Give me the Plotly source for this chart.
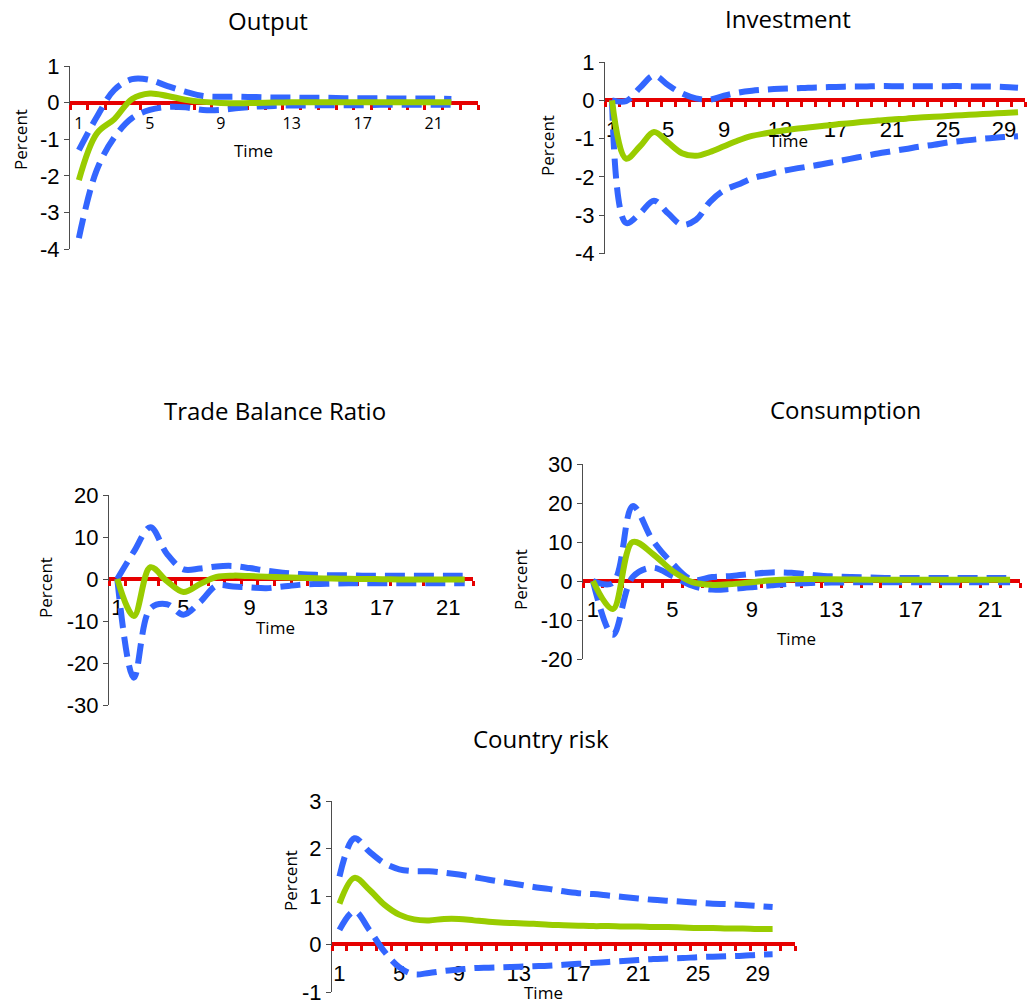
import plotly.graph_objects as go

W, H = 1036, 1006

# ---------------- data ----------------
output_x = list(range(1, 23))
output_irf = [-2.12, -0.85, -0.45, 0.1, 0.25, 0.18, 0.08, 0.02, -0.01, -0.02, -0.01, 0.0,
              0.01, 0.01, 0.01, 0.01, 0.01, 0.01, 0.01, 0.01, 0.01, 0.01]
output_hi = [-1.3, -0.4, 0.35, 0.64, 0.62, 0.45, 0.3, 0.18, 0.16, 0.16, 0.15, 0.14,
             0.14, 0.13, 0.13, 0.12, 0.12, 0.12, 0.11, 0.11, 0.11, 0.1]
output_lo = [-3.7, -1.85, -0.95, -0.42, -0.2, -0.12, -0.13, -0.2, -0.2, -0.15, -0.11, -0.09,
             -0.08, -0.08, -0.07, -0.07, -0.07, -0.06, -0.06, -0.06, -0.06, -0.06]
output_ticks = [1, 5, 9, 13, 17, 21]

inv_x = list(range(1, 31))
inv_irf = [0.0, -1.52, -1.2, -0.83, -1.1, -1.38, -1.45, -1.35, -1.2, -1.05, -0.93, -0.86,
           -0.8, -0.75, -0.71, -0.67, -0.63, -0.6, -0.56, -0.53, -0.5, -0.48, -0.45, -0.43,
           -0.41, -0.39, -0.37, -0.35, -0.33, -0.31]
inv_hi = [0.0, -0.02, 0.33, 0.65, 0.4, 0.18, 0.05, 0.02, 0.12, 0.2, 0.25, 0.28, 0.3, 0.31,
          0.33, 0.34, 0.35, 0.36, 0.36, 0.37, 0.37, 0.37, 0.37, 0.37, 0.37, 0.37, 0.36, 0.36,
          0.35, 0.33]
inv_lo = [0.0, -3.2, -2.95, -2.62, -2.95, -3.25, -3.12, -2.65, -2.35, -2.2, -2.04, -1.95,
          -1.86, -1.79, -1.73, -1.67, -1.6, -1.53, -1.46, -1.39, -1.33, -1.27, -1.21, -1.16,
          -1.1, -1.06, -1.02, -0.99, -0.96, -0.94]
inv_ticks = [1, 5, 9, 13, 17, 21, 25, 29]

tb_x = list(range(1, 23))
tb_irf = [0.0, -8.8, 2.8, -0.5, -3.1, -1.2, 0.5, 0.8, 0.7, 0.55, 0.4, 0.3, 0.2, 0.1,
          0.05, 0.0, -0.05, -0.1, -0.1, -0.1, -0.1, -0.1]
tb_hi = [0.0, 6.5, 12.3, 6.0, 2.3, 2.5, 3.0, 3.1, 2.6, 2.0, 1.5, 1.2, 1.0, 0.9, 0.9, 0.8,
         0.8, 0.8, 0.8, 0.8, 0.8, 0.8]
tb_lo = [0.0, -23.5, -7.0, -6.0, -8.5, -5.5, -1.6, -1.8, -2.0, -2.2, -1.8, -1.4, -1.2, -1.1,
         -1.0, -1.0, -1.0, -1.0, -1.0, -1.0, -1.0, -1.0]
tb_ticks = [1, 5, 9, 13, 17, 21]

con_x = list(range(1, 23))
con_irf = [0.0, -7.2, 10.0, 7.0, 2.6, -0.3, -1.0, -0.8, -0.3, 0.2, 0.45, 0.5, 0.45, 0.4,
           0.35, 0.3, 0.3, 0.3, 0.3, 0.3, 0.3, 0.3]
con_hi = [0.0, -0.5, 19.2, 10.5, 4.5, 0.3, 1.0, 1.3, 1.8, 2.2, 2.1, 1.6, 1.2, 1.0, 0.9,
          0.8, 0.8, 0.8, 0.8, 0.8, 0.8, 0.8]
con_lo = [0.0, -13.8, 1.0, 3.4, 1.3, -1.2, -2.2, -2.0, -1.6, -1.1, -0.7, -0.5, -0.4, -0.35,
          -0.3, -0.3, -0.3, -0.3, -0.3, -0.3, -0.3, -0.3]
con_ticks = [1, 5, 9, 13, 17, 21]

cr_x = list(range(1, 31))
cr_irf = [0.85, 1.39, 1.14, 0.83, 0.62, 0.52, 0.5, 0.53, 0.53, 0.5, 0.47, 0.45, 0.44, 0.43,
          0.41, 0.4, 0.39, 0.38, 0.38, 0.37, 0.37, 0.36, 0.36, 0.35, 0.34, 0.34, 0.33, 0.33,
          0.32, 0.32]
cr_hi = [1.42, 2.22, 1.94, 1.7, 1.57, 1.53, 1.53, 1.5, 1.46, 1.41, 1.35, 1.3, 1.25, 1.2,
         1.16, 1.11, 1.07, 1.05, 1.02, 0.99, 0.96, 0.93, 0.91, 0.89, 0.87, 0.85, 0.84, 0.82,
         0.8, 0.78]
cr_lo = [0.3, 0.69, 0.3, -0.15, -0.48, -0.63, -0.6, -0.56, -0.53, -0.5, -0.49, -0.48, -0.47,
         -0.46, -0.45, -0.43, -0.41, -0.39, -0.37, -0.35, -0.33, -0.31, -0.3, -0.29, -0.27,
         -0.26, -0.25, -0.24, -0.22, -0.21]
cr_ticks = [1, 5, 9, 13, 17, 21, 25, 29]

# ---------------- styling ----------------
GREEN = "#99CC00"
BLUE = "#3366FF"
RED = "#E60000"
AXIS = "#4D4D4D"
NUM_FONT = dict(family="Liberation Sans, Arial, sans-serif", size=22, color="black")
CAL_FONT = "Open Sans, sans-serif"

panels = [
    dict(title="Output", x=output_x, mid=output_irf, hi=output_hi, lo=output_lo,
         ncat=23, yr=(-4, 1), dtick=1, ticks=output_ticks,
         box=(70, 478, 66, 249), title_xy=(268, 20), pct_xy=(20, 140), time_xy=(253, 150),
         xfont=dict(family=CAL_FONT, size=16, color="black"), standoff=5),
    dict(title="Investment", x=inv_x, mid=inv_irf, hi=inv_hi, lo=inv_lo,
         ncat=30, yr=(-4, 1), dtick=1, ticks=inv_ticks,
         box=(605, 1025, 62, 253.5), title_xy=(788, 18), pct_xy=(548, 146), time_xy=(788, 141),
         xfont=NUM_FONT, standoff=8),
    dict(title="Trade Balance Ratio", x=tb_x, mid=tb_irf, hi=tb_hi, lo=tb_lo,
         ncat=22, yr=(-30, 20), dtick=10, ticks=tb_ticks,
         box=(109, 473, 495, 705), title_xy=(275, 410), pct_xy=(45, 588), time_xy=(275, 627),
         xfont=NUM_FONT, standoff=8),
    dict(title="Consumption", x=con_x, mid=con_irf, hi=con_hi, lo=con_lo,
         ncat=22, yr=(-20, 30), dtick=10, ticks=con_ticks,
         box=(583, 1020, 464, 659), title_xy=(845, 409), pct_xy=(520, 580), time_xy=(796, 638),
         xfont=NUM_FONT, standoff=8),
    dict(title="Country risk", x=cr_x, mid=cr_irf, hi=cr_hi, lo=cr_lo,
         ncat=31, yr=(-1, 3), dtick=1, ticks=cr_ticks,
         box=(332, 795, 801, 992), title_xy=(541, 738), pct_xy=(290, 881), time_xy=(543, 992),
         xfont=NUM_FONT, standoff=8),
]

fig = go.Figure()
annotations = []
layout = {}

for i, p in enumerate(panels, start=1):
    xs = "" if i == 1 else str(i)
    xa, ya = "x" + xs, "y" + xs
    x0, x1, yt, yb = p["box"]
    ydom = [1 - yb / H, 1 - yt / H]
    ymin, ymax = p["yr"]
    zero_pos = ydom[0] + (0 - ymin) / (ymax - ymin) * (ydom[1] - ydom[0])
    yvals = list(range(ymin, ymax + p["dtick"], p["dtick"]))

    for series, dash, col in ((p["lo"], "20px,9px", BLUE), (p["hi"], "20px,9px", BLUE),
                              (p["mid"], "solid", GREEN)):
        fig.add_trace(go.Scatter(
            x=p["x"], y=series, mode="lines", xaxis=xa, yaxis=ya,
            line=dict(color=col, width=6, dash=dash, shape="spline", smoothing=1.0),
            showlegend=False, hoverinfo="skip", cliponaxis=False))

    layout["xaxis" + xs] = dict(
        domain=[x0 / W, x1 / W], range=[0.5, p["ncat"] + 0.5], anchor="free",
        position=zero_pos, showline=True, linecolor=RED, linewidth=4,
        tickmode="array", tickvals=p["ticks"], ticktext=[str(t) for t in p["ticks"]],
        ticks="", tickfont=p["xfont"], ticklabelstandoff=p["standoff"],
        minor=dict(tickmode="array", tickvals=[k + 0.5 for k in range(p["ncat"] + 1)],
                   ticks="outside", ticklen=5, tickwidth=3, tickcolor=RED, showgrid=False),
        showgrid=False, zeroline=False, layer="below traces", fixedrange=True,
        automargin=False)
    layout["yaxis" + xs] = dict(
        domain=ydom, range=[ymin, ymax], anchor=xa, showline=True, linecolor=AXIS,
        linewidth=1, ticks="outside", ticklen=5, tickcolor=AXIS,
        tickmode="array", tickvals=yvals, ticktext=[str(v) for v in yvals],
        tickfont=NUM_FONT, showgrid=False, zeroline=False,
        layer="below traces", fixedrange=True, automargin=False)

    tx, ty = p["title_xy"]
    annotations.append(dict(text=p["title"], x=tx / W, y=1 - ty / H, xref="paper", yref="paper",
                            showarrow=False, xanchor="center", yanchor="middle",
                            font=dict(family=CAL_FONT, size=24, color="black")))
    px, py = p["pct_xy"]
    annotations.append(dict(text="Percent", x=px / W, y=1 - py / H, xref="paper", yref="paper",
                            showarrow=False, xanchor="center", yanchor="middle", textangle=-90,
                            font=dict(family=CAL_FONT, size=17, color="black")))
    qx, qy = p["time_xy"]
    annotations.append(dict(text="Time", x=qx / W, y=1 - qy / H, xref="paper", yref="paper",
                            showarrow=False, xanchor="center", yanchor="middle",
                            font=dict(family=CAL_FONT, size=17, color="black")))

fig.update_layout(
    width=W, height=H, margin=dict(l=0, r=0, t=0, b=0, pad=0, autoexpand=False),
    paper_bgcolor="white", plot_bgcolor="rgba(0,0,0,0)",
    annotations=annotations, showlegend=False, **layout)

fig.write_html("out.html")
